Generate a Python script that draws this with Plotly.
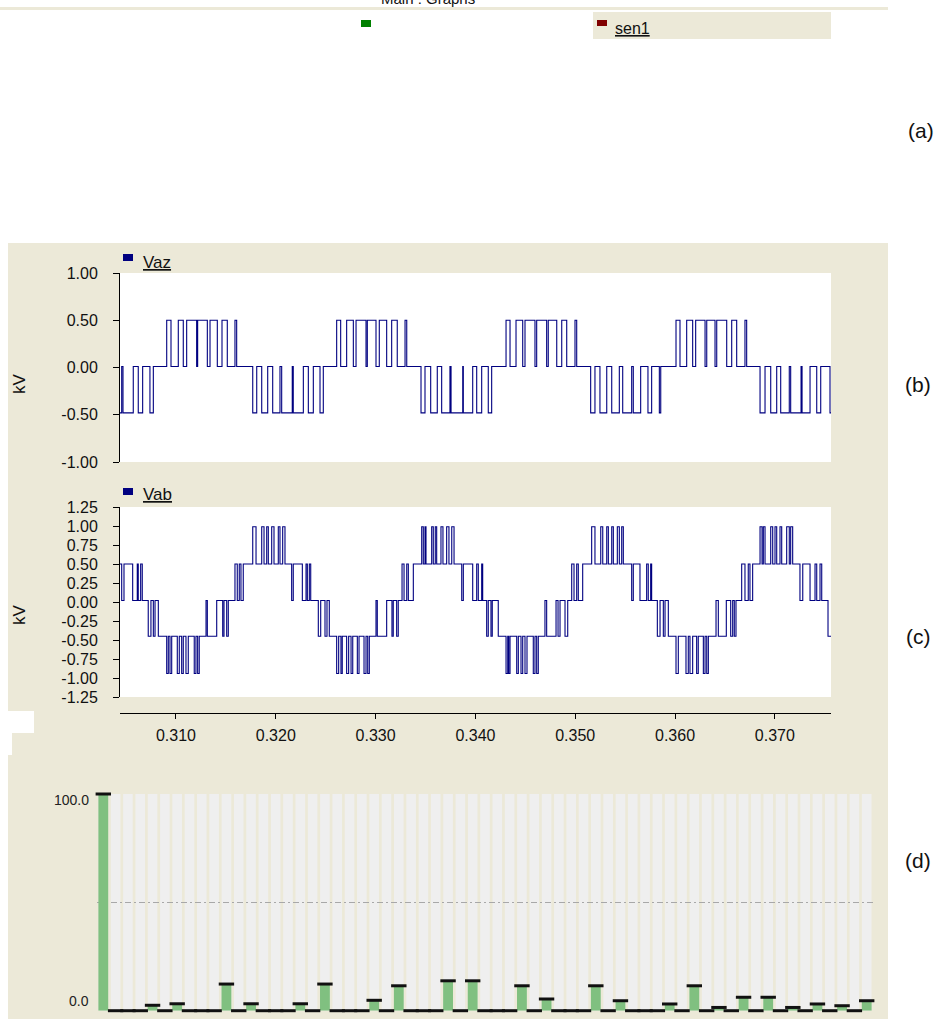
import plotly.graph_objects as go

W, H = 944, 1019

# ---------------------------------------------------------------- data ----
# Phase voltage Vaz: switching instants (ms) and the level (kV) held after each
VAZ_T_MS = [
    304.39, 304.56, 304.69, 305.72, 306.22, 306.66, 307.39, 307.73,
    309.07, 309.50, 310.23, 310.73, 311.07, 312.07, 312.17, 313.14, 313.41, 314.14, 314.61, 315.14, 315.91, 316.08,
    317.69, 318.09, 318.59, 319.19, 319.69, 320.42, 320.59, 321.65, 321.75, 322.76, 323.26, 323.76, 324.43, 324.76,
    326.10, 326.50, 327.10, 327.77, 328.04, 329.04, 329.17, 330.04, 330.37, 331.11, 331.61, 332.17, 332.95, 333.12,
    334.55, 334.95, 335.52, 336.18, 336.62, 337.45, 337.56, 338.73, 338.79, 339.73, 340.13, 340.63, 341.29, 341.63,
    343.07, 343.47, 344.07, 344.74, 344.97, 345.97, 346.14, 347.14, 347.30, 348.15, 348.65, 349.15, 349.98, 350.15,
    351.55, 351.98, 352.48, 353.16, 353.66, 354.42, 354.76, 355.66, 355.82, 356.56, 357.29, 357.66, 358.43, 358.57,
    360.10, 360.50, 361.17, 361.77, 362.07, 363.01, 363.18, 364.01, 364.18, 365.18, 365.68, 366.18, 367.01, 367.18,
    368.52, 369.02, 369.59, 370.19, 370.59, 371.45, 371.59, 372.63, 372.73, 373.53, 374.20, 374.60, 375.53, 375.63,
]
VAZ_KV = [
    -0.48, 0.01, -0.48, 0.01, -0.48, 0.01, -0.48, 0.01,
    0.50, 0.01, 0.50, 0.01, 0.50, 0.01, 0.50, 0.01, 0.50, 0.01, 0.50, 0.01, 0.50, 0.01,
    -0.48, 0.01, -0.48, 0.01, -0.48, 0.01, -0.48, 0.01, -0.48, 0.01, -0.48, 0.01, -0.48, 0.01,
    0.50, 0.01, 0.50, 0.01, 0.50, 0.01, 0.50, 0.01, 0.50, 0.01, 0.50, 0.01, 0.50, 0.01,
    -0.48, 0.01, -0.48, 0.01, -0.48, 0.01, -0.48, 0.01, -0.48, 0.01, -0.48, 0.01, -0.48, 0.01,
    0.50, 0.01, 0.50, 0.01, 0.50, 0.01, 0.50, 0.01, 0.50, 0.01, 0.50, 0.01, 0.50, 0.01,
    -0.48, 0.01, -0.48, 0.01, -0.48, 0.01, -0.48, 0.01, -0.48, 0.01, -0.48, 0.01, -0.48, 0.01,
    0.50, 0.01, 0.50, 0.01, 0.50, 0.01, 0.50, 0.01, 0.50, 0.01, 0.50, 0.01, 0.50, 0.01,
    -0.48, 0.01, -0.48, 0.01, -0.48, 0.01, -0.48, 0.01, -0.48, 0.01, -0.48, 0.01, -0.48, -0.48,
]

# Line voltage Vab: switching instants (ms) and the level (kV) held after each
VAB_T_MS = [
    304.39, 304.56, 304.79, 305.66, 306.12, 306.22, 306.46, 306.62, 307.22, 307.49,
    307.73, 307.90, 308.23, 309.07, 309.23, 309.40, 309.57, 310.13, 310.33, 310.57,
    310.73, 311.00, 311.23, 311.83, 312.00, 312.17, 312.33, 313.01, 313.14, 314.08,
    314.68, 314.81, 315.08, 315.24, 315.91, 316.14, 316.34, 316.51, 316.74, 317.69,
    318.02, 318.59, 318.82, 319.09, 319.25, 319.59, 319.82, 320.25, 320.42, 320.69,
    320.92, 321.59, 321.75, 322.66, 323.03, 323.16, 323.36, 323.50, 324.26, 324.50,
    324.93, 325.13, 325.36, 326.10, 326.30, 326.53, 326.66, 327.10, 327.30, 327.54,
    327.71, 328.17, 328.34, 328.84, 329.04, 329.21, 329.37, 330.04, 330.17, 331.11,
    331.64, 331.77, 332.11, 332.27, 332.65, 332.85, 333.12, 333.28, 333.78, 334.62,
    334.78, 334.95, 335.05, 335.62, 335.78, 335.98, 336.12, 336.55, 336.75, 337.12,
    337.35, 337.63, 337.86, 338.63, 338.79, 339.73, 340.13, 340.29, 340.63, 340.73,
    341.13, 341.29, 341.56, 341.69, 342.29, 343.07, 343.24, 343.34, 343.47, 344.14,
    344.30, 344.57, 344.74, 344.97, 345.17, 345.80, 345.97, 346.14, 346.30, 346.97,
    347.14, 348.08, 348.28, 348.48, 348.98, 349.25, 349.65, 349.88, 350.15, 350.31,
    350.75, 351.65, 351.98, 352.56, 352.76, 353.16, 353.32, 353.66, 353.82, 354.22,
    354.42, 354.66, 354.82, 355.66, 355.82, 356.49, 357.16, 357.32, 357.56, 357.66,
    358.23, 358.50, 358.83, 359.00, 359.33, 360.10, 360.33, 361.10, 361.33, 361.50,
    361.77, 362.17, 362.33, 362.84, 363.01, 363.18, 363.34, 364.11, 364.34, 365.14,
    365.58, 365.78, 365.94, 366.11, 366.68, 367.01, 367.34, 367.51, 367.78, 368.52,
    368.72, 368.85, 369.02, 369.59, 369.79, 370.02, 370.19, 370.52, 370.69, 371.19,
    371.45, 371.59, 371.79, 372.52, 372.80, 373.53, 374.03, 374.20, 374.53, 374.70,
    375.33, 375.63,
]
VAB_KV = [
    0.50, 0.02, 0.50, 0.02, 0.50, 0.02, 0.50, 0.02, -0.45, 0.02,
    -0.45, 0.02, -0.45, -0.94, -0.45, -0.94, -0.45, -0.94, -0.45, -0.94,
    -0.45, -0.94, -0.45, -0.94, -0.45, -0.94, -0.45, 0.02, -0.45, 0.02,
    -0.45, 0.02, -0.45, 0.02, 0.50, 0.02, 0.50, 0.02, 0.50, 0.99,
    0.50, 0.99, 0.50, 0.99, 0.50, 0.99, 0.50, 0.99, 0.50, 0.99,
    0.50, 0.02, 0.50, 0.02, 0.50, 0.02, 0.50, 0.02, -0.45, 0.02,
    -0.45, 0.02, -0.45, -0.94, -0.45, -0.94, -0.45, -0.94, -0.45, -0.94,
    -0.45, -0.94, -0.45, -0.94, -0.45, -0.94, -0.45, 0.02, -0.45, 0.02,
    -0.45, 0.02, -0.45, 0.02, 0.50, 0.02, 0.50, 0.02, 0.50, 0.99,
    0.50, 0.99, 0.50, 0.99, 0.50, 0.99, 0.50, 0.99, 0.50, 0.99,
    0.50, 0.99, 0.50, 0.02, 0.50, 0.02, 0.50, 0.02, 0.50, 0.02,
    -0.45, 0.02, -0.45, 0.02, -0.45, -0.94, -0.45, -0.94, -0.45, -0.94,
    -0.45, -0.94, -0.45, -0.94, -0.45, -0.94, -0.45, -0.94, -0.45, 0.02,
    -0.45, 0.02, -0.45, 0.02, -0.45, 0.02, 0.50, 0.02, 0.50, 0.02,
    0.50, 0.99, 0.50, 0.99, 0.50, 0.99, 0.50, 0.99, 0.50, 0.99,
    0.50, 0.99, 0.50, 0.02, 0.50, 0.02, 0.50, 0.02, 0.50, 0.02,
    -0.45, 0.02, -0.45, 0.02, -0.45, -0.94, -0.45, -0.94, -0.45, -0.94,
    -0.45, -0.94, -0.45, -0.94, -0.45, -0.94, -0.45, 0.02, -0.45, 0.02,
    -0.45, 0.02, -0.45, 0.02, 0.50, 0.02, 0.50, 0.02, 0.50, 0.99,
    0.50, 0.99, 0.50, 0.99, 0.50, 0.99, 0.50, 0.99, 0.50, 0.99,
    0.50, 0.99, 0.50, 0.02, 0.50, 0.02, 0.50, 0.02, 0.50, 0.02,
    -0.45, -0.45,
]
assert len(VAZ_T_MS) == len(VAZ_KV)
assert len(VAB_T_MS) == len(VAB_KV)

TIME_RANGE_S = [0.30439, 0.37563]
TIME_TICKS = [0.310, 0.320, 0.330, 0.340, 0.350, 0.360, 0.370]
TIME_TICK_TEXT = ["0.310", "0.320", "0.330", "0.340", "0.350", "0.360", "0.370"]
VAZ_TICKS = [1.0, 0.5, 0.0, -0.5, -1.0]
VAZ_TICK_TEXT = ["1.00", "0.50", "0.00", "-0.50", "-1.00"]
VAB_TICKS = [1.25, 1.0, 0.75, 0.5, 0.25, 0.0, -0.25, -0.5, -0.75, -1.0, -1.25]
VAB_TICK_TEXT = ["1.25", "1.00", "0.75", "0.50", "0.25", "0.00",
                 "-0.25", "-0.50", "-0.75", "-1.00", "-1.25"]

# Harmonic magnitudes (% of fundamental), orders 1..63
HARMONIC_ORDER = list(range(1, 64))
HARMONIC_PCT = [
    100.0, 0, 0, 0, 2.5, 0, 3.2, 0, 0, 0,
    12.3, 0, 3.2, 0, 0, 0, 3.2, 0, 12.3, 0,
    0, 0, 4.8, 0, 11.5, 0, 0, 0, 13.8, 0,
    13.8, 0, 0, 0, 11.5, 0, 5.4, 0, 0, 0,
    11.5, 0, 4.6, 0, 0, 0, 3.1, 0, 11.5, 0,
    1.5, 0, 6.2, 0, 6.2, 0, 1.5, 0, 3.1, 0,
    2.3, 0, 4.6,
]
HARMONIC_TICKS = [0, 100]
HARMONIC_TICK_TEXT = ["0.0", "100.0"]

# -------------------------------------------------------------- styling ----
FONT = "Liberation Sans, Arial, sans-serif"
BEIGE = "#ECE9D8"
NAVY = "#000080"


def px(x):
    return x / W


def py(y):
    return 1 - y / H


fig = go.Figure()

fig.add_trace(go.Scatter(
    x=[t / 1000 for t in VAZ_T_MS], y=VAZ_KV, mode="lines",
    line=dict(color=NAVY, width=1.1, shape="hv"),
    xaxis="x", yaxis="y", hoverinfo="skip"))

fig.add_trace(go.Scatter(
    x=[t / 1000 for t in VAB_T_MS], y=VAB_KV, mode="lines",
    line=dict(color=NAVY, width=1.1, shape="hv"),
    xaxis="x2", yaxis="y2", hoverinfo="skip"))

fig.add_trace(go.Bar(
    x=HARMONIC_ORDER, y=HARMONIC_PCT, width=0.8,
    marker=dict(color="#80C080", line=dict(width=0)),
    xaxis="x3", yaxis="y3", hoverinfo="skip"))

fig.add_trace(go.Scatter(
    x=HARMONIC_ORDER, y=HARMONIC_PCT, mode="markers", cliponaxis=False,
    marker=dict(symbol="line-ew", size=11, line=dict(color="#111111", width=3)),
    xaxis="x3", yaxis="y3", hoverinfo="skip"))

# ---------------------------------------------------------------- shapes ----
shapes = []


def paper_rect(x0, y0, x1, y1, color):
    shapes.append(dict(type="rect", xref="paper", yref="paper",
                       x0=px(x0), x1=px(x1), y0=py(y1), y1=py(y0),
                       fillcolor=color, line=dict(width=0), layer="below"))


paper_rect(0, 7, 888, 10, BEIGE)            # frame strip at the top
paper_rect(593, 12, 831, 39, BEIGE)         # sen1 legend box
paper_rect(361, 20, 371, 27, "#008000")
paper_rect(597, 20, 607, 26, "#800000")
paper_rect(8, 243, 888, 1019, BEIGE)        # graph frame
paper_rect(120, 273, 831, 462, "white")     # Vaz plot area
paper_rect(120, 507, 831, 697, "white")     # Vab plot area
paper_rect(8, 711, 34, 733, "white")
paper_rect(0, 733, 12, 755, "white")
paper_rect(123, 254, 133, 261, NAVY)        # legend keys
paper_rect(123, 488, 133, 495, NAVY)

# light grey column behind every harmonic order
for k in HARMONIC_ORDER:
    shapes.append(dict(type="rect", xref="x3", yref="y3",
                       x0=k - 0.39, x1=k + 0.39, y0=0, y1=100,
                       fillcolor="#EFEFEF", line=dict(width=0), layer="below"))

# ----------------------------------------------------------- annotations ----
ann = []


def text(x, y, s, size, xanchor="center", yanchor="middle", angle=0, color="#111111"):
    ann.append(dict(x=px(x), y=py(y), xref="paper", yref="paper", text=s,
                    showarrow=False, xanchor=xanchor, yanchor=yanchor,
                    textangle=angle, font=dict(family=FONT, size=size, color=color)))


text(428, 9, "Main : Graphs", 15, yanchor="bottom")
text(613, 28, "<u>sen1</u>", 16, xanchor="left")
text(141, 262, "<u>Vaz</u>", 17, xanchor="left")
text(141, 495, "<u>Vab</u>", 17, xanchor="left")
text(19, 384, "kV", 17, angle=-90)
text(19, 615, "kV", 17, angle=-90)
text(921, 130, "(a)", 21)
text(918, 384, "(b)", 21)
text(918, 636, "(c)", 21)
text(918, 860, "(d)", 21)

for v, s in zip(HARMONIC_TICKS, HARMONIC_TICK_TEXT):
    ann.append(dict(x=px(91), xref="paper", y=v, yref="y3", text=s,
                    showarrow=False, xanchor="right",
                    yanchor="top" if v > 50 else "bottom",
                    yshift=4 if v > 50 else 0,
                    font=dict(family=FONT, size=14, color="#222222")))

# ------------------------------------------------------------------ axes ----
tickfont = dict(family=FONT, size=16, color="#111111")
x_dom = [px(120), px(831)]

fig.update_layout(
    width=W, height=H,
    margin=dict(l=0, r=0, t=0, b=0, autoexpand=False),
    paper_bgcolor="white", plot_bgcolor="rgba(0,0,0,0)",
    showlegend=False, shapes=shapes, annotations=ann,
    xaxis=dict(domain=x_dom, range=TIME_RANGE_S, anchor="y", automargin=False,
               showline=False, showticklabels=False, ticks="",
               showgrid=False, zeroline=False),
    yaxis=dict(domain=[py(462), py(273)], range=[-1, 1], anchor="x", automargin=False,
               tickvals=VAZ_TICKS, ticktext=VAZ_TICK_TEXT, tickfont=tickfont,
               showline=True, linecolor="black", linewidth=1,
               ticks="outside", ticklen=6, tickcolor="black",
               ticklabelstandoff=12, showgrid=False, zeroline=False),
    xaxis2=dict(domain=x_dom, range=TIME_RANGE_S, anchor="free", automargin=False,
                position=py(713), tickvals=TIME_TICKS, ticktext=TIME_TICK_TEXT,
                tickfont=tickfont, showline=True, linecolor="black", linewidth=1,
                ticks="outside", ticklen=5, tickcolor="black",
                ticklabelstandoff=3, showgrid=False, zeroline=False),
    yaxis2=dict(domain=[py(697), py(507)], range=[-1.25, 1.25], anchor="x2", automargin=False,
                tickvals=VAB_TICKS, ticktext=VAB_TICK_TEXT, tickfont=tickfont,
                showline=True, linecolor="black", linewidth=1,
                ticks="outside", ticklen=6, tickcolor="black",
                ticklabelstandoff=12, showgrid=False, zeroline=False),
    xaxis3=dict(domain=[px(97.14), px(872.86)], range=[0.5, 63.5], anchor="y3", automargin=False,
                showline=False, showticklabels=False, ticks="",
                showgrid=False, zeroline=False),
    yaxis3=dict(domain=[py(1010.7), py(794)], range=[0, 100], anchor="x3", automargin=False,
                tickvals=[50], showticklabels=False, ticks="",
                showgrid=True, gridcolor="#A8A8A8", gridwidth=1,
                griddash="6px,3px,2px,3px", showline=False, zeroline=False),
)

fig.write_html("out.html")
